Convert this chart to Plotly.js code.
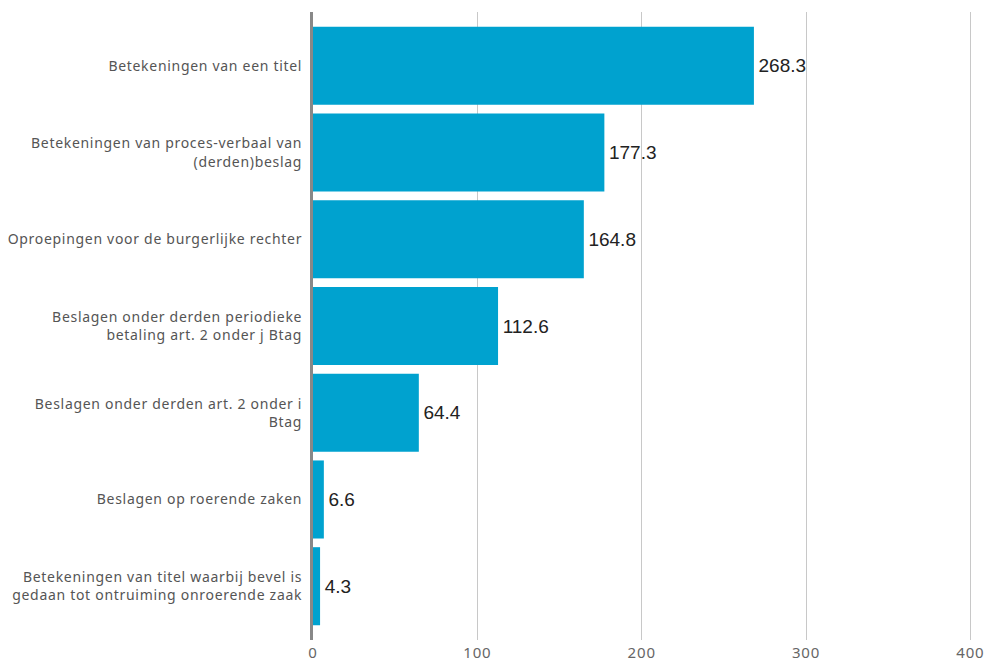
<!DOCTYPE html>
<html><head><meta charset="utf-8">
<script src="https://cdn.plot.ly/plotly-3.0.1.min.js"></script>
<style>
html,body{margin:0;padding:0;background:#fff}#chart{width:987px;height:664px}
#chart .ytick text{letter-spacing:0.7px}
#chart .xtick text{letter-spacing:0.8px}
</style>
</head><body><div id="chart"></div>
<script>
const categories = [
  "Betekeningen van een titel",
  "Betekeningen van proces-verbaal van<br>(derden)beslag",
  "Oproepingen voor de burgerlijke rechter",
  "Beslagen onder derden periodieke<br>betaling art. 2 onder j Btag",
  "Beslagen onder derden art. 2 onder i<br>Btag",
  "Beslagen op roerende zaken",
  "Betekeningen van titel waarbij bevel is<br>gedaan tot ontruiming onroerende zaak"
];
const values = [268.3, 177.3, 164.8, 112.6, 64.4, 6.6, 4.3];
const labels = values.map(v => '\u200A' + v.toFixed(1));
const xTicks = [0, 100, 200, 300, 400];

Plotly.newPlot('chart', [{
  type: 'bar', orientation: 'h',
  y: categories, x: values,
  text: labels, textposition: 'outside', cliponaxis: false,
  textfont: {family: 'Liberation Sans, Arial, sans-serif', size: 19, color: '#222'},
  marker: {color: '#00a2cf'},
  hoverinfo: 'none'
}], {
  width: 987, height: 664,
  margin: {l: 313, r: 15, t: 12, b: 24},
  paper_bgcolor: '#fff', plot_bgcolor: '#fff',
  bargap: 0.1,
  showlegend: false,
  font: {family: 'Noto Sans, sans-serif', size: 14, color: '#666'},
  xaxis: {
    range: [0, 401], tickvals: xTicks, ticktext: xTicks.map(String),
    showgrid: true, gridcolor: '#c8c8c8', gridwidth: 1,
    zeroline: false, showline: false, ticks: '', ticklabelstandoff: 2,
    tickfont: {family: 'Noto Sans, sans-serif', size: 15, color: '#666'}
  },
  yaxis: {
    type: 'category', autorange: false, range: [6.62, -0.62],
    showgrid: false, zeroline: false,
    showline: true, linecolor: '#888', linewidth: 3,
    ticks: '', ticklabelstandoff: 5,
    tickfont: {family: 'Noto Sans, sans-serif', size: 14, color: '#555'}
  }
}, {staticPlot: true});
</script></body></html>
